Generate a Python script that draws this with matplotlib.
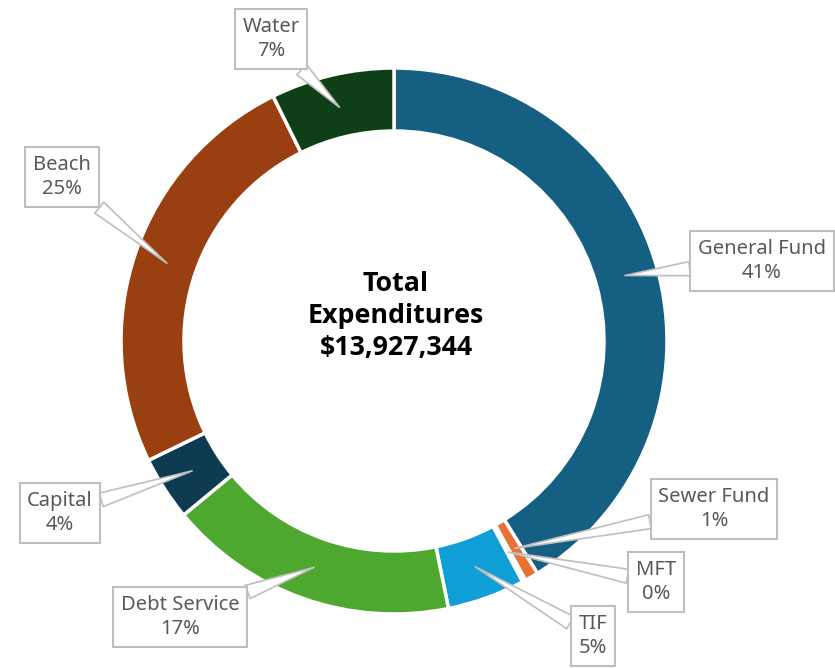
import numpy as np
import matplotlib.pyplot as plt

plt.rcParams['font.family'] = ['Noto Sans', 'DejaVu Sans']

categories = ['General Fund', 'Sewer Fund', 'MFT', 'TIF', 'Debt Service', 'Capital', 'Beach', 'Water']
shares = [41.2, 0.8, 0.2, 4.6, 17.2, 3.8, 24.9, 7.3]
colors = ['#156082', '#E97132', '#E97132', '#0F9ED5', '#4EA72E', '#0E3B52', '#9A3F10', '#0F3F17']
total = '$13,927,344'

# label box centres in pixel coords (y from top)
label_pos = [(762, 261), (714, 509), (656, 582), (593, 636), (180, 617), (60, 513), (62, 177), (271, 39)]

W, H = 835, 668
fig = plt.figure(figsize=(W / 100, H / 100), dpi=100)
ax = fig.add_axes([0, 0, 1, 1])

cx, cy, R = 394, H - 341, 273
wedges, _ = ax.pie(shares, colors=colors, startangle=90, counterclock=False,
                   radius=R, center=(cx, cy), frame=True,
                   wedgeprops=dict(width=63, edgecolor='white', linewidth=2.5))
ax.set_xlim(0, W)
ax.set_ylim(0, H)
ax.set_aspect('equal')
ax.axis('off')

for w, name, val, (lx, ly) in zip(wedges, categories, shares, label_pos):
    mid = np.deg2rad((w.theta1 + w.theta2) / 2)
    px = cx + 240 * np.cos(mid)
    py = cy + 240 * np.sin(mid)
    ax.annotate(f'{name}\n{round(val)}%', xy=(px, py), xytext=(lx, H - ly),
                ha='center', va='center', fontsize=14.5, color='#595959',
                linespacing=1.3,
                bbox=dict(boxstyle='square,pad=0.38', fc='white', ec='#BFBFBF', lw=1.5),
                arrowprops=dict(arrowstyle='wedge,tail_width=0.7', fc='white', ec='#BFBFBF',
                                lw=1.2, shrinkA=0, shrinkB=0))

ax.text(cx + 2, H - 316, f'Total\nExpenditures\n{total}', ha='center', va='center',
        fontsize=19.3, fontweight='bold', color='black', linespacing=1.3,
        family=['Open Sans', 'DejaVu Sans'])

fig.savefig('out.png', dpi=100)
